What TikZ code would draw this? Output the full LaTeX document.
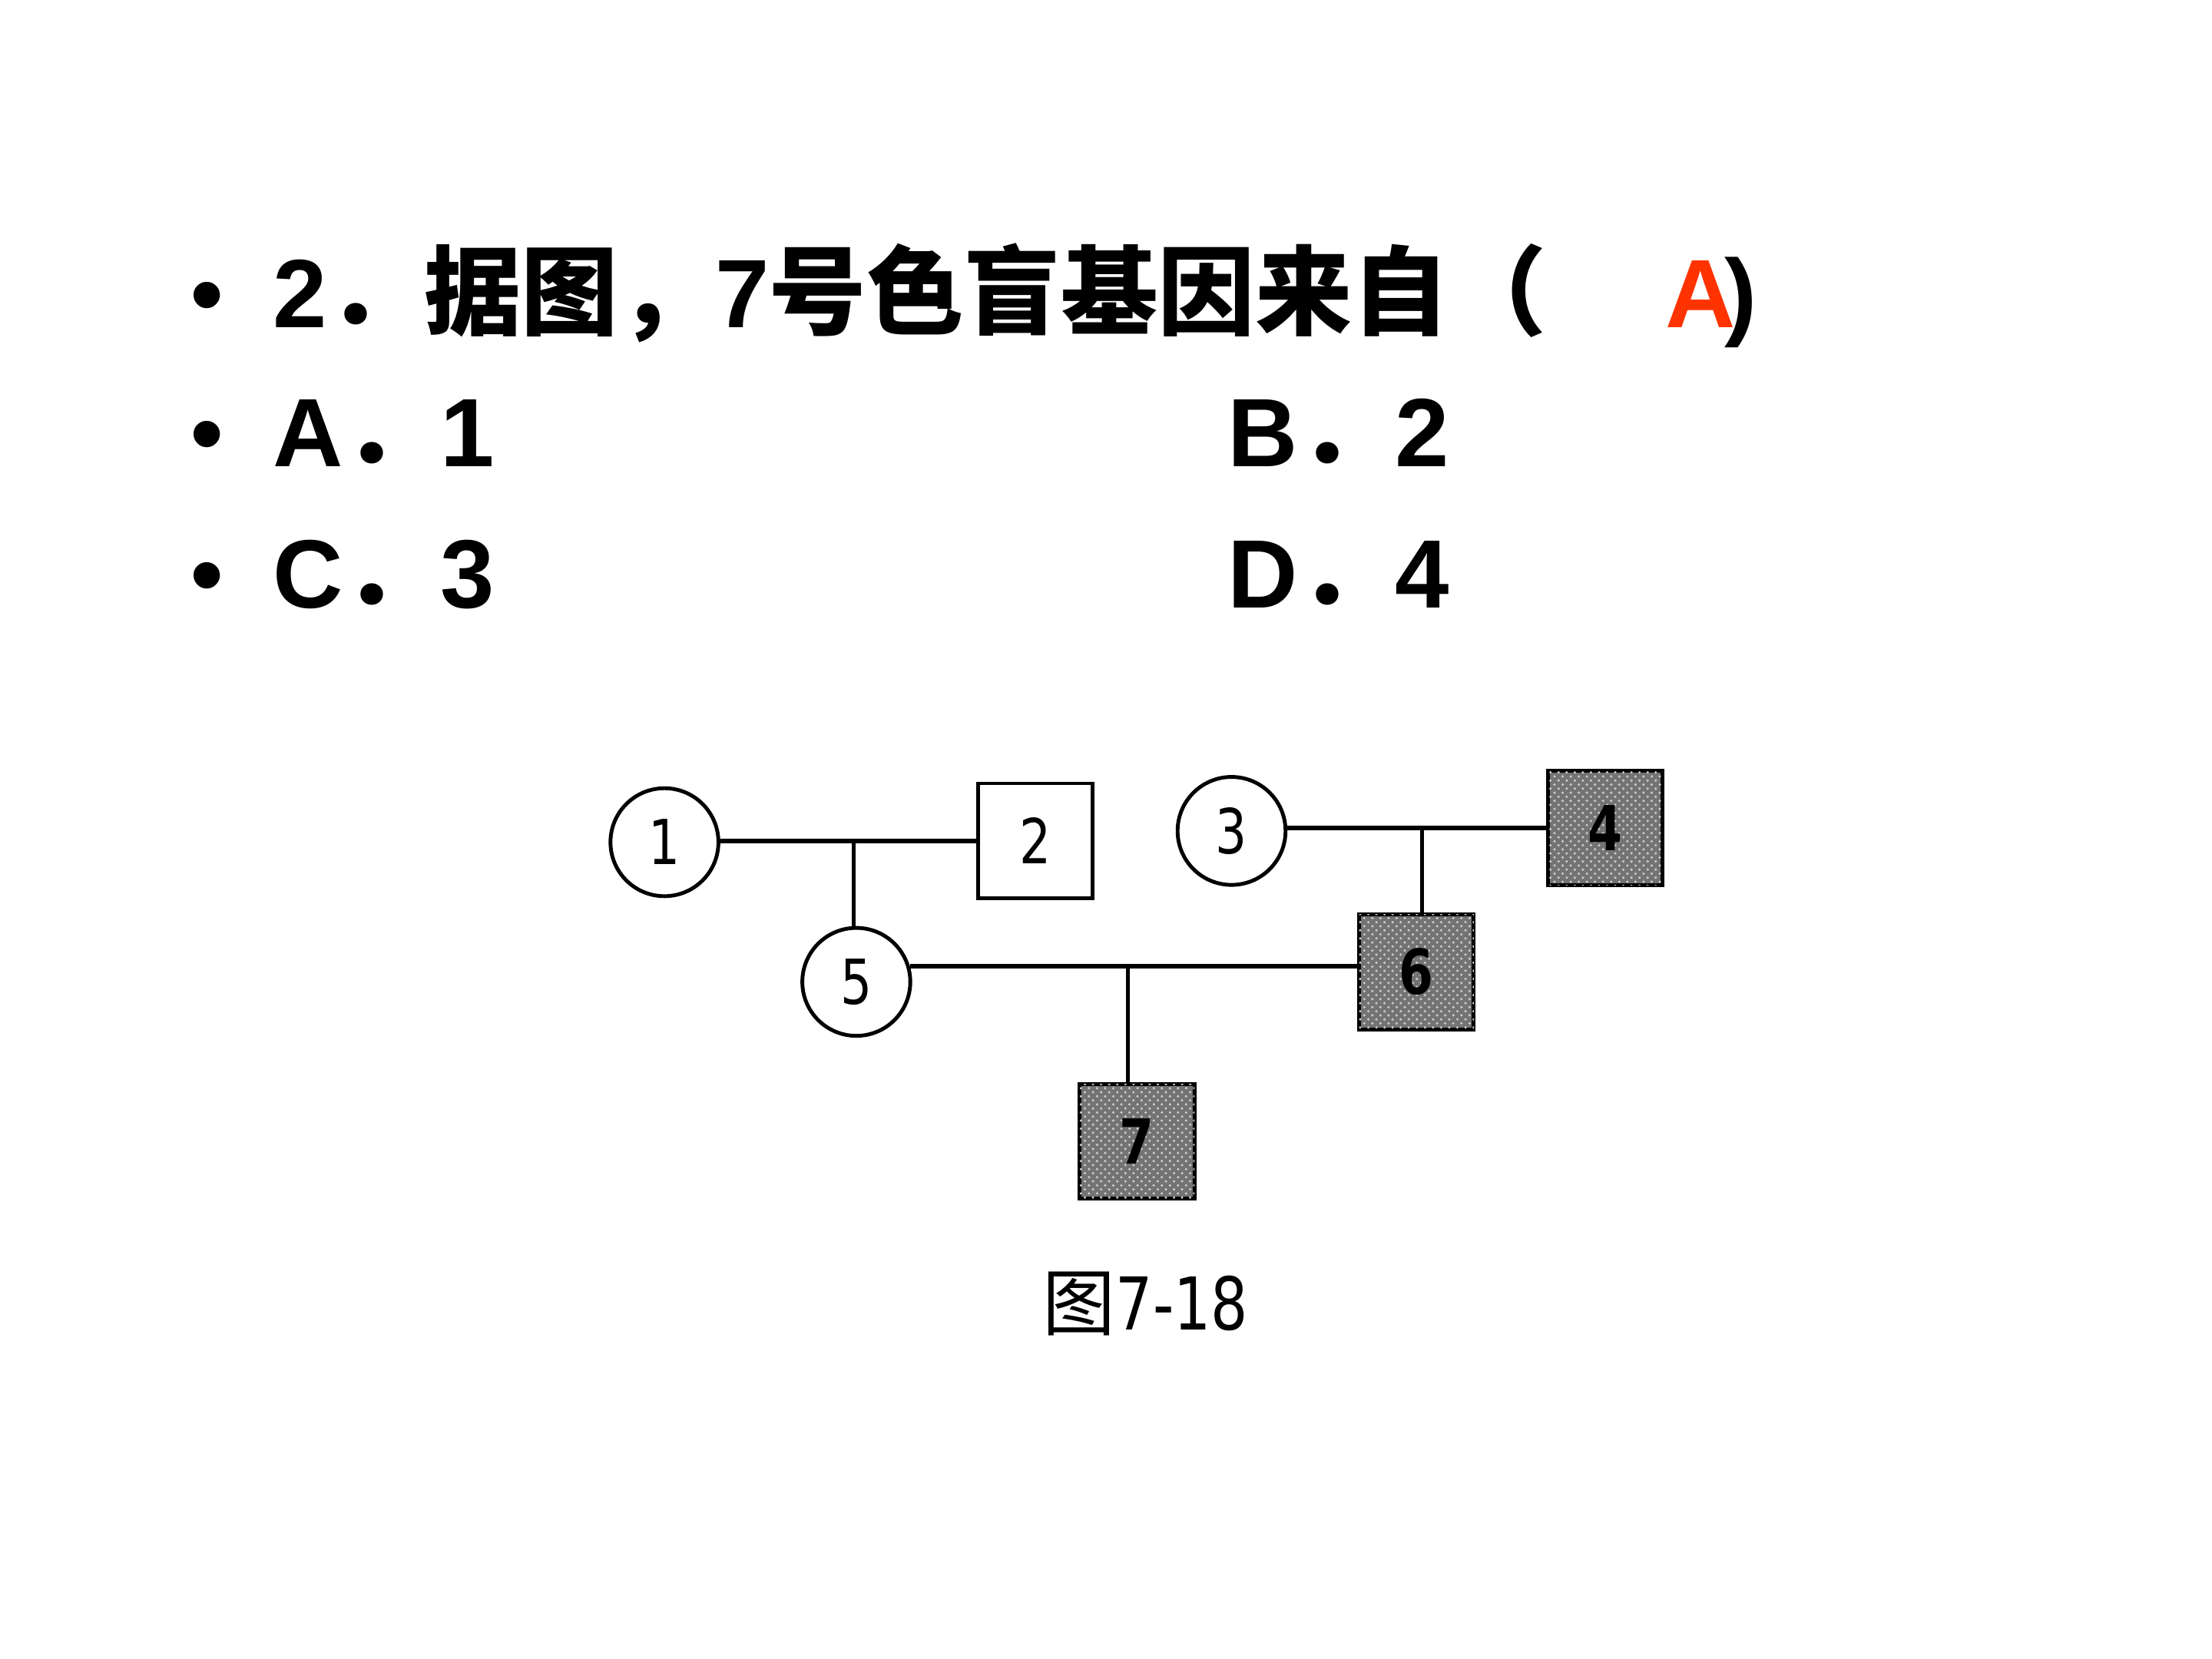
\documentclass[tikz,border=0pt]{standalone}
\usepackage{fontspec}
\usepackage{xcolor}
\usepackage{tikz}
\usetikzlibrary{calc,patterns}
\setmainfont{Liberation Sans}
\newfontfamily\cjkfont{Noto Sans CJK SC}
\newfontfamily\pedfont[FakeStretch=0.8]{DejaVu Sans}
\definecolor{ansred}{HTML}{FF3300}

\begin{document}
\begin{tikzpicture}[x=0.018367cm, y=-0.018367cm,
    qtext/.style={font=\fontsize{36}{43}\selectfont\bfseries, inner sep=0, anchor=base west},
    bul/.style={font=\fontsize{36}{43}\selectfont, inner sep=0, anchor=base},
    fem/.style={circle, draw, line width=1.4pt, minimum size=40pt, inner sep=0, font=\pedfont\fontsize{23}{25}\selectfont},
    male/.style={rectangle, draw, line width=1.4pt, minimum size=42.5pt, inner sep=0, font=\pedfont\fontsize{23}{25}\selectfont},
    sick/.style={male, fill=black!55, postaction={pattern=crosshatch dots, pattern color=white!80!black}, font=\pedfont\bfseries\fontsize{23}{25}\selectfont},
    mate/.style={line width=1.8pt},
    kid/.style={line width=1.4pt}]
    \useasboundingbox (0,0) rectangle (1568,1176);

    % Question and choices
    \foreach \y in {232, 331, 431} {
        \node[bul] at (147,\y) {•};
    }
    \node[qtext] (q) at (193,232) {2{\cjkfont ．据图，}7{\cjkfont 号色盲基因来自（}};
    \node[qtext, text=ansred] (ans) at (1180,232) {A};
    \node[qtext] (par) at (1222,232) {)};
    \node[qtext] (optA) at (193,331) {A{\cjkfont ．}1};
    \node[qtext] (optB) at (870,331) {B{\cjkfont ．}2};
    \node[qtext] (optC) at (193,431) {C{\cjkfont ．}3};
    \node[qtext] (optD) at (870,431) {D{\cjkfont ．}4};

    % Pedigree
    \node[fem]  (i1) at (471,597) {1};
    \node[male] (i2) at (734,596) {2};
    \node[fem]  (i3) at (873,589) {3};
    \node[sick] (i4) at (1138,587) {4};
    \node[fem]  (i5) at (607,696) {5};
    \node[sick] (i6) at (1004,689) {6};
    \node[sick] (i7) at (806,809) {7};

    \draw[mate] (i2.west -| i1.east) -- (i2.west);
    \coordinate (m12) at ($(i2.west -| i1.east)!0.52!(i2.west)$);
    \draw[kid] (m12) -- (m12 |- i5.north);

    \draw[mate] (i4.west -| i3.east) -- (i4.west);
    \coordinate (m34) at ($(i4.west -| i3.east)!0.52!(i4.west)$);
    \draw[kid] (m34) -- (m34 |- i6.north);

    \draw[mate] (i5.16) -- (i5.16 -| i6.west);
    \coordinate (m56) at ($(i5.16)!0.487!(i5.16 -| i6.west)$);
    \draw[kid] (m56) -- (m56 |- i7.north);

    % Caption
    \node[font=\fontsize{27}{30}\selectfont] (cap) at (812,924) {{\cjkfont 图}\pedfont 7-18};
\end{tikzpicture}
\end{document}
